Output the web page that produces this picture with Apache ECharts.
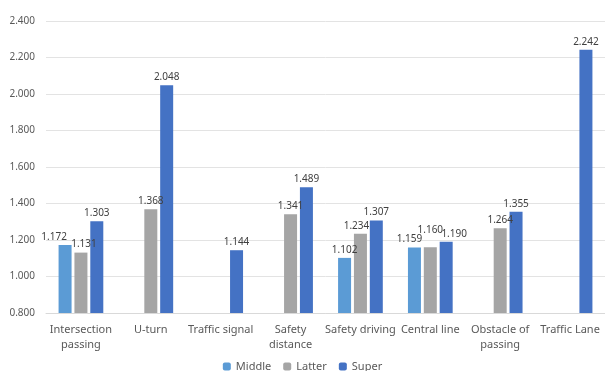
<!DOCTYPE html>
<html>
<head>
<meta charset="utf-8">
<script src="https://cdn.jsdelivr.net/npm/echarts@6/dist/echarts.min.js"></script>
<style>
  html, body { margin: 0; padding: 0; background: #fff; }
  #chart { width: 605px; height: 371px; }
</style>
</head>
<body>
<div id="chart"></div>
<script>
// categories and series values
const categories = ['Intersection\npassing', 'U-turn', 'Traffic signal', 'Safety\ndistance',
  'Safety driving', 'Central line', 'Obstacle of\npassing', 'Traffic Lane']
const middle = [1.172, null, null, null, 1.102, 1.159, null, null]
const latter = [1.131, 1.368, null, 1.341, 1.234, 1.160, 1.264, null]
const superVals = [1.303, 2.048, 1.144, 1.489, 1.307, 1.190, 1.355, 2.242]
const seriesNames = ['Middle', 'Latter', 'Super']
const colors = ['#5B9BD5', '#A5A5A5', '#4472C4']

// label nudges, like the hand-moved labels in the original (series index -> data index -> [dx, dy])
const labelNudge = {
  0: { 0: [-11, 0], 5: [-5, 0] },
  1: { 0: [3, 0], 4: [-4, 0], 5: [0, -9] },
  2: { 5: [8, 0] }
}

const chart = echarts.init(document.getElementById('chart'))

const makeSeries = (idx, data) => ({
  name: seriesNames[idx],
  type: 'bar',
  data: data.map((v, i) => {
    const n = (labelNudge[idx] || {})[i]
    return n ? { value: v, label: { offset: n } } : v
  }),
  barGap: '22%',
  barCategoryGap: '36%',
  itemStyle: { color: colors[idx] },
  label: {
    show: true,
    position: 'top',
    distance: 3,
    fontSize: 10,
    color: '#404040',
    fontFamily: 'Noto Sans',
    formatter: (p) => p.value == null ? '' : p.value.toFixed(3)
  }
})

const option = {
  animation: false,
  grid: { left: 46, right: 0, top: 21, bottom: 58 },
  legend: {
    top: 356,
    left: 'center',
    itemWidth: 8,
    itemHeight: 8,
    itemGap: 12,
    textStyle: { fontSize: 11, color: '#595959', fontFamily: 'Noto Sans' },
    data: seriesNames
  },
  xAxis: {
    type: 'category',
    data: categories,
    axisTick: { show: false },
    axisLine: { lineStyle: { color: '#d9d9d9' } },
    axisLabel: {
      interval: 0,
      fontSize: 11,
      color: '#595959',
      fontFamily: 'Noto Sans',
      lineHeight: 15,
      margin: 9
    }
  },
  yAxis: {
    type: 'value',
    min: 0.8,
    max: 2.4,
    interval: 0.2,
    axisLine: { show: false },
    axisTick: { show: false },
    splitLine: { lineStyle: { color: '#e3e3e3' } },
    axisLabel: {
      fontSize: 10,
      color: '#595959',
      fontFamily: 'Noto Sans',
      margin: 11,
      formatter: (v) => v.toFixed(3)
    }
  },
  series: [
    makeSeries(0, middle),
    makeSeries(1, latter),
    makeSeries(2, superVals)
  ]
}

chart.setOption(option)
</script>
</body>
</html>
